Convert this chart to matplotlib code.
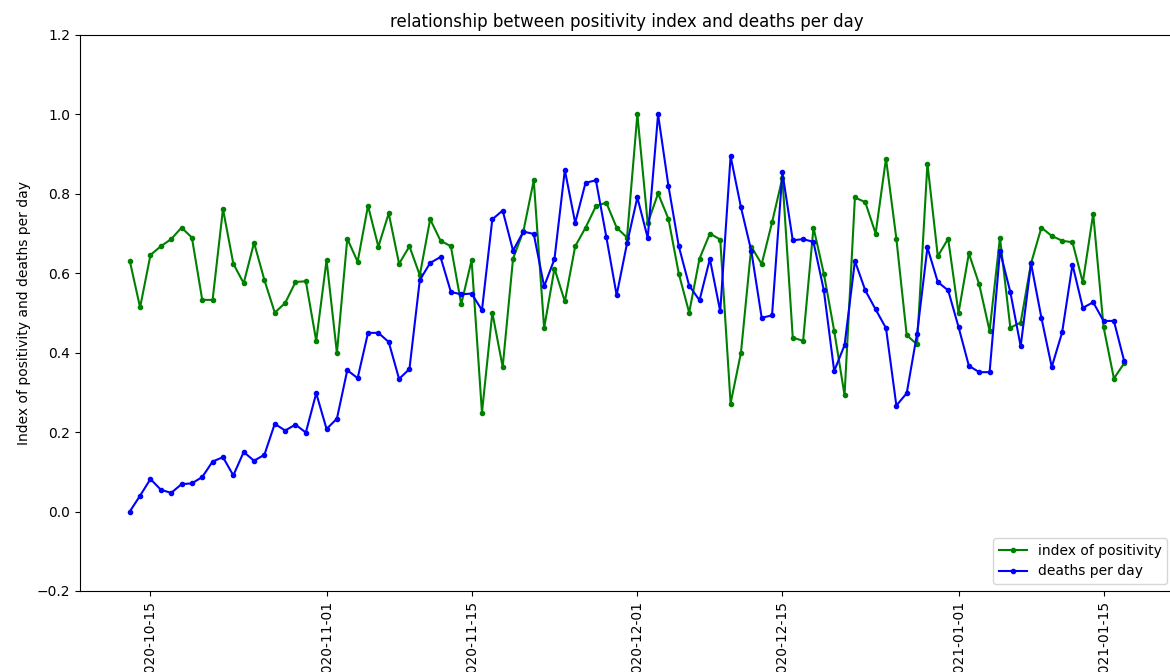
import numpy as np
import pandas as pd
import matplotlib
matplotlib.use("Agg")
import matplotlib.pyplot as plt
import matplotlib.dates as mdates

# Datos (un valor por dia)
fechas = pd.date_range("2020-10-13", "2021-01-17", freq="D")

positividad = [
    0.632, 0.514, 0.646, 0.668, 0.686, 0.715, 0.690, 0.533, 0.533, 0.762,
    0.624, 0.575, 0.677, 0.583, 0.501, 0.525, 0.578, 0.580, 0.430, 0.633,
    0.399, 0.687, 0.629, 0.770, 0.667, 0.751, 0.624, 0.668, 0.595, 0.736,
    0.682, 0.668, 0.522, 0.633, 0.249, 0.501, 0.364, 0.637, 0.706, 0.834,
    0.462, 0.612, 0.529, 0.668, 0.715, 0.769, 0.778, 0.715, 0.690, 1.000,
    0.726, 0.801, 0.737, 0.599, 0.501, 0.637, 0.700, 0.685, 0.272, 0.400,
    0.667, 0.623, 0.728, 0.840, 0.438, 0.430, 0.715, 0.599, 0.455, 0.293,
    0.791, 0.779, 0.700, 0.889, 0.687, 0.444, 0.421, 0.876, 0.643, 0.687,
    0.500, 0.650, 0.572, 0.455, 0.690, 0.463, 0.476, 0.625, 0.715, 0.694,
    0.682, 0.678, 0.577, 0.750, 0.465, 0.335, 0.374,
]

muertes = [
    0.000, 0.040, 0.082, 0.055, 0.047, 0.069, 0.071, 0.087, 0.126, 0.137,
    0.091, 0.150, 0.128, 0.143, 0.221, 0.204, 0.219, 0.199, 0.298, 0.208,
    0.234, 0.356, 0.336, 0.450, 0.450, 0.427, 0.334, 0.359, 0.583, 0.626,
    0.641, 0.553, 0.547, 0.549, 0.507, 0.736, 0.758, 0.657, 0.705, 0.699,
    0.567, 0.636, 0.860, 0.727, 0.828, 0.834, 0.692, 0.545, 0.675, 0.791,
    0.689, 1.000, 0.820, 0.668, 0.569, 0.532, 0.636, 0.504, 0.895, 0.766,
    0.656, 0.488, 0.494, 0.854, 0.683, 0.686, 0.679, 0.557, 0.354, 0.419,
    0.631, 0.557, 0.509, 0.462, 0.267, 0.298, 0.448, 0.665, 0.578, 0.557,
    0.465, 0.367, 0.351, 0.351, 0.656, 0.553, 0.416, 0.625, 0.488, 0.364,
    0.451, 0.622, 0.513, 0.527, 0.480, 0.480, 0.378,
]

fig = plt.figure(figsize=(11.7, 6.72), dpi=100)
ax = fig.add_axes([80 / 1170, 81 / 672, 1094 / 1170, 556 / 672])

ax.plot(fechas, positividad, '.-', color='green', label='index of positivity')
ax.plot(fechas, muertes, '.-', color='blue', label='deaths per day')

ax.set_ylim(-0.2, 1.2)
ax.xaxis.set_major_locator(mdates.DayLocator(bymonthday=[1, 15]))
ax.xaxis.set_major_formatter(mdates.DateFormatter('%Y-%m-%d'))
plt.setp(ax.get_xticklabels(), rotation=90)

ax.set_ylabel("Index of positivity and deaths per day")
ax.set_title("relationship between positivity index and deaths per day")
ax.legend(loc='lower right')

fig.savefig("out.png", dpi=100)
